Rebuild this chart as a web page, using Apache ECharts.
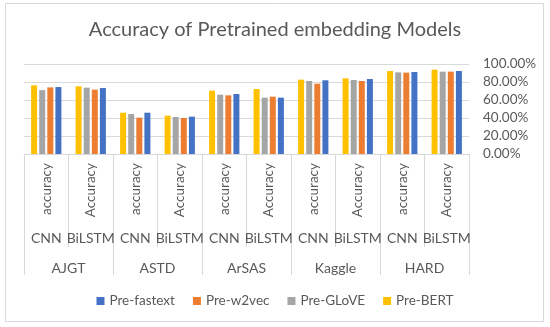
<!DOCTYPE html>
<html>
<head>
<meta charset="utf-8">
<script src="https://cdn.jsdelivr.net/npm/echarts@6/dist/echarts.min.js"></script>
<style>
html,body{margin:0;padding:0;background:#fff;}
#c{width:550px;height:327px;}
</style>
</head>
<body>
<div id="c"></div>
<script>
// ---- data ----
const metricLabels = ["accuracy","Accuracy","accuracy","Accuracy","accuracy","Accuracy","accuracy","Accuracy","accuracy","Accuracy"];
const modelLabels = ["CNN","BiLSTM","CNN","BiLSTM","CNN","BiLSTM","CNN","BiLSTM","CNN","BiLSTM"];
const datasets = ["AJGT","ASTD","ArSAS","Kaggle","HARD"];
const preBERT    = [76.3, 75.2, 45.9, 42.6, 70.4, 72.2, 82.6, 84.1, 92.2, 93.7];
const preGLoVE   = [71.0, 73.7, 44.4, 41.1, 65.9, 62.6, 81.1, 82.2, 90.7, 91.5];
const preW2vec   = [74.0, 71.5, 40.4, 40.0, 65.2, 63.7, 78.1, 81.1, 90.4, 91.5];
const preFastext = [74.4, 73.3, 45.9, 41.5, 66.7, 62.6, 81.9, 83.3, 91.1, 92.2];
const yTicks = [0, 20, 40, 60, 80, 100];

const FONT = 'Lato';
const TXT = '#595959';
const GRID = '#d9d9d9';

const chart = echarts.init(document.getElementById('c'), null, {renderer:'canvas'});

function bar(name, data, color){
  return {
    name, type:'bar', data, xAxisIndex:0, yAxisIndex:0,
    barWidth:6, barGap:'35%',
    itemStyle:{color}
  };
}

chart.setOption({
  animation:false,
  textStyle:{fontFamily:FONT},
  title:{
    text:'Accuracy of Pretrained embedding Models',
    left:'center', top:15,
    textStyle:{fontFamily:FONT, fontSize:20, fontWeight:'normal', color:TXT}
  },
  graphic:[{
    type:'rect', shape:{x:5.5,y:3.5,width:538,height:318},
    style:{fill:'none', stroke:GRID, lineWidth:1}, silent:true, z:-1
  }],
  legend:{
    data:['Pre-fastext','Pre-w2vec','Pre-GLoVE','Pre-BERT'],
    top:289, left:'center',
    icon:'rect', itemWidth:8, itemHeight:8, itemGap:18,
    textStyle:{fontFamily:FONT, fontSize:13.5, color:TXT}
  },
  grid:{left:24, right:81, top:64, bottom:173, containLabel:false},
  xAxis:[
    {
      type:'category', data:metricLabels, position:'bottom',
      axisLine:{show:true, lineStyle:{color:GRID}},
      axisTick:{show:true, length:93, interval:0, lineStyle:{color:GRID}},
      axisLabel:{rotate:90, margin:9, interval:0, fontFamily:FONT, fontSize:13.5, color:TXT}
    },
    {
      type:'category', data:modelLabels, position:'bottom',
      axisLine:{show:false}, axisTick:{show:false},
      axisLabel:{margin:77, interval:0, fontFamily:FONT, fontSize:14, color:TXT}
    },
    {
      type:'category', data:datasets, position:'bottom',
      axisLine:{show:false},
      axisTick:{show:true, length:121, interval:0, lineStyle:{color:GRID}},
      axisLabel:{margin:107, interval:0, fontFamily:FONT, fontSize:14, color:TXT}
    }
  ],
  yAxis:{
    type:'value', position:'right', min:0, max:100, interval:20,
    axisLine:{show:false}, axisTick:{show:false},
    splitLine:{lineStyle:{color:GRID}},
    axisLabel:{align:'left', margin:14, fontFamily:FONT, fontSize:13.5, color:TXT,
      formatter:v=>v.toFixed(2)+'%'}
  },
  series:[
    bar('Pre-BERT', preBERT, '#FFC000'),
    bar('Pre-GLoVE', preGLoVE, '#A5A5A5'),
    bar('Pre-w2vec', preW2vec, '#ED7D31'),
    bar('Pre-fastext', preFastext, '#4472C4')
  ]
});
</script>
</body>
</html>
